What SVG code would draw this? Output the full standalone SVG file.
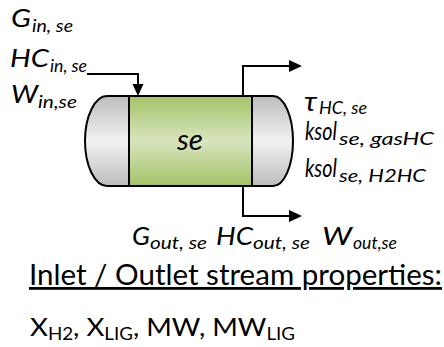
<svg xmlns="http://www.w3.org/2000/svg" width="444" height="347" viewBox="0 0 444 347">
<style>
text{font-family:Lato,"Open Sans","Liberation Sans",sans-serif;fill:#000}
.m{font-size:25px;font-style:italic}
.s{font-size:18px;font-style:italic}
.line{fill:none;stroke:#000;stroke-width:2}
.vessel{stroke:#000;stroke-width:2}
</style>
<defs>
<linearGradient id="gGreen" x1="0" y1="0" x2="0" y2="1">
<stop offset="0" stop-color="#a4c267"/>
<stop offset="0.5" stop-color="#d8e5be"/>
<stop offset="1" stop-color="#a4c267"/>
</linearGradient>
<linearGradient id="gGray" x1="0" y1="0" x2="0" y2="1">
<stop offset="0" stop-color="#bdbdbd"/>
<stop offset="0.5" stop-color="#f2f2f2"/>
<stop offset="1" stop-color="#bdbdbd"/>
</linearGradient>
</defs>
<rect width="444" height="347" fill="#fff"/>
<g id="vessel">
<path class="vessel" fill="url(#gGray)" d="M129,96 L107,96 A22,45 0 0 0 107,186 L129,186 Z"/>
<path class="vessel" fill="url(#gGray)" d="M252,96 L273,96 A20,45 0 0 1 273,186 L252,186 Z"/>
<rect class="vessel" fill="url(#gGreen)" x="129" y="96" width="123" height="90"/>
<text x="177" y="150" style="font-size:29px;font-style:italic" textLength="26" lengthAdjust="spacingAndGlyphs">se</text>
</g>
<g id="connectors">
<path class="line" d="M87,74 H138 V86"/>
<polygon points="132.5,84 143.5,84 138,96"/>
<path class="line" d="M243,96 V66 H290"/>
<polygon points="289,60 302,66 289,72"/>
<path class="line" d="M243,186 V216 H290"/>
<polygon points="289,210 302,216 289,222"/>
</g>
<g id="inlet-labels">
<text class="m" x="11" y="27"><tspan textLength="20" lengthAdjust="spacingAndGlyphs">G</tspan><tspan class="s" x="32" dy="5" textLength="41" lengthAdjust="spacingAndGlyphs">in, se</tspan></text>
<text class="m" x="10" y="67"><tspan textLength="39" lengthAdjust="spacingAndGlyphs">HC</tspan><tspan class="s" x="50" dy="5" textLength="37" lengthAdjust="spacingAndGlyphs">in, se</tspan></text>
<text class="m" x="11" y="103"><tspan textLength="27" lengthAdjust="spacingAndGlyphs">W</tspan><tspan class="s" x="38" dy="5" textLength="39" lengthAdjust="spacingAndGlyphs">in,se</tspan></text>
</g>
<g id="param-labels">
<text class="m" x="304" y="111"><tspan style="font-size:27px" textLength="13" lengthAdjust="spacingAndGlyphs">τ</tspan><tspan class="s" x="319" dy="3" textLength="48" lengthAdjust="spacingAndGlyphs">HC, se</tspan></text>
<text class="m" x="305" y="140"><tspan textLength="32" lengthAdjust="spacingAndGlyphs">ksol</tspan><tspan class="s" x="339" dy="5" textLength="95" lengthAdjust="spacingAndGlyphs">se, gasHC</tspan></text>
<text class="m" x="305" y="177"><tspan textLength="32" lengthAdjust="spacingAndGlyphs">ksol</tspan><tspan class="s" x="339" dy="5" textLength="87" lengthAdjust="spacingAndGlyphs">se, H2HC</tspan></text>
</g>
<g id="outlet-labels">
<text class="m" x="132" y="245"><tspan textLength="18" lengthAdjust="spacingAndGlyphs">G</tspan><tspan class="s" x="150" dy="4" textLength="57" lengthAdjust="spacingAndGlyphs">out, se</tspan></text>
<text class="m" x="216" y="245"><tspan textLength="37" lengthAdjust="spacingAndGlyphs">HC</tspan><tspan class="s" x="253" dy="4" textLength="57" lengthAdjust="spacingAndGlyphs">out, se</tspan></text>
<text class="m" x="322" y="245"><tspan textLength="30" lengthAdjust="spacingAndGlyphs">W</tspan><tspan class="s" x="353" dy="4" textLength="44" lengthAdjust="spacingAndGlyphs">out,se</tspan></text>
</g>
<g id="properties">
<text x="29" y="285" style="font-size:28px;text-decoration:underline" textLength="413" lengthAdjust="spacingAndGlyphs">Inlet / Outlet stream properties:</text>
<text x="30" y="336" style="font-size:25px" textLength="265" lengthAdjust="spacingAndGlyphs">X<tspan style="font-size:17px" dy="4">H2</tspan><tspan dy="-4">, X</tspan><tspan style="font-size:17px" dy="4">LIG</tspan><tspan dy="-4">, MW, MW</tspan><tspan style="font-size:17px" dy="4">LIG</tspan></text>
</g>
</svg>
